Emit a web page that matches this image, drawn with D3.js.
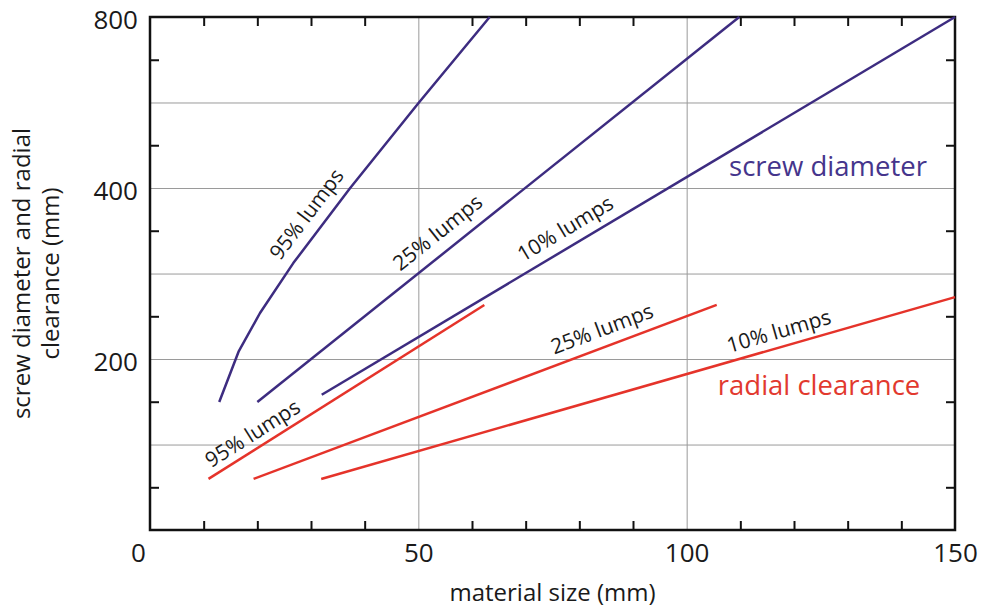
<!DOCTYPE html>
<html>
<head>
<meta charset="utf-8">
<script src="https://cdn.jsdelivr.net/npm/d3@7"></script>
<style>
    body { margin: 0; background: #fff; }
    text { font-family: "Open Sans", sans-serif; }
</style>
</head>
<body>
<div id="graph"></div>
<script>
// Tick values
var xLabels = [0, 50, 100, 150]
var xGrid = [50, 100]
var xMinor = [10, 20, 30, 40, 60, 70, 80, 90, 110, 120, 130, 140]
var yLabels = [200, 400, 800]
var yGrid = [141.4, 200, 282.8, 400, 565.7]
var yMinor = [118.9, 168.2, 237.8, 336.4, 475.7, 672.7]

// Curves: [material size (mm), value (mm)]
var screw95 = [[12.9, 168], [16.5, 206], [20.5, 241], [26.7, 295], [37.3, 400], [50, 564], [63.3, 800]]
var screw25 = [[20.0, 168], [109.8, 800]]
var screw10 = [[32.0, 173], [150, 800]]
var clear95 = [[10.9, 123], [62.3, 249]]
var clear25 = [[19.3, 123], [105.6, 249]]
var clear10 = [[31.9, 123], [150, 257]]

var blue = "#3d2c80",
    red = "#e5332a"

/*
    Set the dimensions and margins of the graph
*/
var margin = {top: 17, right: 31, bottom: 83, left: 150},
    width = 986 - margin.left - margin.right,
    height = 613 - margin.top - margin.bottom;

var svg = d3.select("#graph").append("svg")
            .attr("width", 986)
            .attr("height", 613)
            .append("g")
            .attr("transform", "translate(" + margin.left + "," + margin.top + ")");

var x = d3.scaleLinear().domain([0, 150]).range([0, width]),
    y = d3.scaleLog().base(2).domain([100, 800]).range([height, 0]);

// grid
svg.append("g")
   .attr("transform", "translate(0," + height + ")")
   .call(d3.axisBottom(x).tickValues(xGrid).tickSize(-height).tickFormat(""))
   .call(function(g) { g.select(".domain").remove() })
   .selectAll("line").attr("stroke", "#9a9a9a").attr("stroke-width", 1)
svg.append("g")
   .call(d3.axisLeft(y).tickValues(yGrid).tickSize(-width).tickFormat(""))
   .call(function(g) { g.select(".domain").remove() })
   .selectAll("line").attr("stroke", "#9a9a9a").attr("stroke-width", 1)

// minor ticks on all four sides, pointing in
var minor = [
    [d3.axisBottom(x).tickValues(xMinor), "translate(0," + height + ")"],
    [d3.axisTop(x).tickValues(xMinor), null],
    [d3.axisLeft(y).tickValues(yMinor), null],
    [d3.axisRight(y).tickValues(yMinor), "translate(" + width + ",0)"]
]
minor.forEach(function(m) {
    svg.append("g")
       .attr("transform", m[1])
       .call(m[0].tickSize(-9).tickFormat(""))
       .call(function(g) { g.select(".domain").remove() })
       .selectAll("line").attr("stroke", "#111").attr("stroke-width", 2)
})

// frame
svg.append("rect")
   .attr("width", width).attr("height", height)
   .attr("fill", "none").attr("stroke", "#111").attr("stroke-width", 2.5)

// tick labels
var xAxis = svg.append("g")
   .attr("transform", "translate(0," + height + ")")
   .call(d3.axisBottom(x).tickValues(xLabels).tickSize(0).tickPadding(14))
xAxis.select(".domain").remove()
xAxis.selectAll("text").attr("font-size", 26).attr("fill", "#1a1a1a")
     .attr("font-family", "'Open Sans', sans-serif")
     .attr("dx", function(d) { return d === 0 ? -12 : 0 })

var yAxis = svg.append("g")
   .call(d3.axisLeft(y).tickValues(yLabels).tickFormat(d3.format("d")).tickSize(0).tickPadding(12))
yAxis.select(".domain").remove()
yAxis.selectAll("text").attr("font-size", 26).attr("fill", "#1a1a1a")
     .attr("font-family", "'Open Sans', sans-serif")
     .attr("dy", "0.44em")

// axis titles
svg.append("text")
   .attr("x", width / 2).attr("y", height + 71)
   .attr("text-anchor", "middle")
   .attr("font-size", 24).attr("fill", "#1a1a1a")
   .text("material size (mm)")

var yTitle = svg.append("text")
   .attr("transform", "translate(" + (-margin.left) + "," + (height / 2) + ") rotate(-90)")
   .attr("text-anchor", "middle")
   .attr("font-size", 24).attr("fill", "#1a1a1a")
yTitle.append("tspan").attr("x", 0).attr("y", 30).text("screw diameter and radial")
yTitle.append("tspan").attr("x", 0).attr("y", 59).text("clearance (mm)")

// lines
var line = d3.line()
    .x(function(d) { return x(d[0]) })
    .y(function(d) { return y(d[1]) })

var series = [
    {pts: screw95, color: blue},
    {pts: screw25, color: blue},
    {pts: screw10, color: blue},
    {pts: clear95, color: red},
    {pts: clear25, color: red},
    {pts: clear10, color: red}
]

svg.selectAll(".curve")
   .data(series)
   .enter().append("path")
   .attr("class", "curve")
   .attr("d", function(d) { return line(d.pts) })
   .attr("fill", "none")
   .attr("stroke", function(d) { return d.color })
   .attr("stroke-width", 2.5)
   .attr("stroke-linejoin", "round")

// labels sitting along the lines
var lumpLabels = [
    {text: "95% lumps", pts: screw95, at: 32.0, off: 19},
    {text: "25% lumps", pts: screw25, at: 55.9, off: 20},
    {text: "10% lumps", pts: screw10, at: 79.1, off: 18},
    {text: "95% lumps", pts: clear95, at: 20.6, off: 15},
    {text: "25% lumps", pts: clear25, at: 85.4, off: 18},
    {text: "10% lumps", pts: clear10, at: 118, off: 16}
]

lumpLabels.forEach(function(l) {
    var i = 1
    while (i < l.pts.length - 1 && l.pts[i][0] < l.at) i++
    var x0 = x(l.pts[i - 1][0]), y0 = y(l.pts[i - 1][1]),
        x1 = x(l.pts[i][0]), y1 = y(l.pts[i][1])
    var t = (x(l.at) - x0) / (x1 - x0)
    var px = x0 + t * (x1 - x0), py = y0 + t * (y1 - y0)
    var angle = Math.atan2(y1 - y0, x1 - x0) * 180 / Math.PI
    svg.append("text")
       .attr("transform", "translate(" + px + "," + py + ") rotate(" + angle + ")")
       .attr("y", -l.off).attr("dy", "0.35em")
       .attr("text-anchor", "middle")
       .attr("font-size", 21).attr("fill", "#1a1a1a")
       .text(l.text)
})

svg.append("text")
   .attr("x", x(107.9)).attr("y", y(420))
   .attr("font-size", 27.5).attr("fill", "#45358c")
   .text("screw diameter")

svg.append("text")
   .attr("x", x(105.8)).attr("y", y(173))
   .attr("font-size", 27.5).attr("fill", "#e2392e")
   .text("radial clearance")
</script>
</body>
</html>
